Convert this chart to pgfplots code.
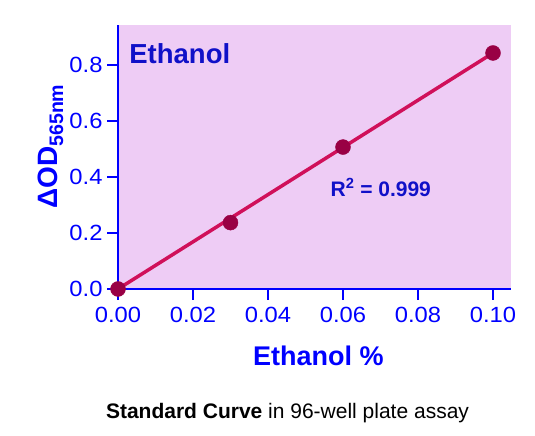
\documentclass[border=0pt]{standalone}
\usepackage{pgfplots}
\pgfplotsset{compat=1.18}
\usepackage{fontspec}
\setmainfont{Liberation Sans}
\newfontfamily\tickfont[FakeStretch=1.08]{Liberation Sans}

\definecolor{axblue}{HTML}{0000FF}
\definecolor{darkblue}{HTML}{1010C8}
\definecolor{plotbg}{HTML}{EECCF5}
\definecolor{fitline}{HTML}{D0105A}
\definecolor{dotcol}{HTML}{990044}

\begin{document}
\begin{tikzpicture}[x=1bp,y=1bp]
\useasboundingbox (0,0) rectangle (535,436);
\begin{axis}[
  at={(118bp,147bp)}, anchor=south west,
  scale only axis, width=393bp, height=264bp,
  xmin=0, xmax=0.1048, ymin=0, ymax=0.943,
  axis x line=bottom, axis y line=left,
  axis line style={-, axblue, line width=2bp},
  axis background/.style={fill=plotbg},
  tick align=outside, major tick length=11bp,
  tick style={axblue, line width=1.5bp},
  xtick={0,0.02,0.04,0.06,0.08,0.10},
  ytick={0,0.2,0.4,0.6,0.8},
  x tick label style={yshift=-4bp, /pgf/number format/.cd, fixed, fixed zerofill, precision=2},
  y tick label style={xshift=-1bp, /pgf/number format/.cd, fixed, fixed zerofill, precision=1},
  /pgf/number format/assume math mode=true,
  tick label style={font=\tickfont\fontsize{22bp}{25bp}\selectfont, text=axblue},
  scaled x ticks=false,
  xlabel={Ethanol \%},
  xlabel style={at={(axis description cs:0.51,-0.288)}, anchor=base,
    font=\fontsize{27bp}{30bp}\selectfont\bfseries, text=axblue},
  ylabel={ΔOD\textsubscript{565nm}},
  ylabel style={at={(axis description cs:-0.153,0.54)}, anchor=base, rotate=0,
    font=\fontsize{28bp}{30bp}\selectfont\bfseries, text=axblue},
  clip=false,
]
\addplot[fitline, line width=3.5bp] coordinates {(0,0) (0.10,0.843)};
\addplot[only marks, mark=*, mark size=7.5bp, mark options={fill=dotcol, draw=dotcol}]
  coordinates {(0,0) (0.03,0.237) (0.06,0.507) (0.10,0.843)};
\node[anchor=base west, text=darkblue, font=\fontsize{27.5bp}{30bp}\selectfont\bfseries]
  at (axis description cs:0.020,0.856) {Ethanol};
\node[anchor=base west, text=darkblue, font=\fontsize{21bp}{25bp}\selectfont\bfseries]
  at (axis description cs:0.532,0.352) {R\textsuperscript{2} = 0.999};
\end{axis}
\node[anchor=base, font=\fontsize{21bp}{25bp}\selectfont] at (287.5,17)
  {\textbf{Standard Curve} in 96-well plate assay};
\end{tikzpicture}
\end{document}
